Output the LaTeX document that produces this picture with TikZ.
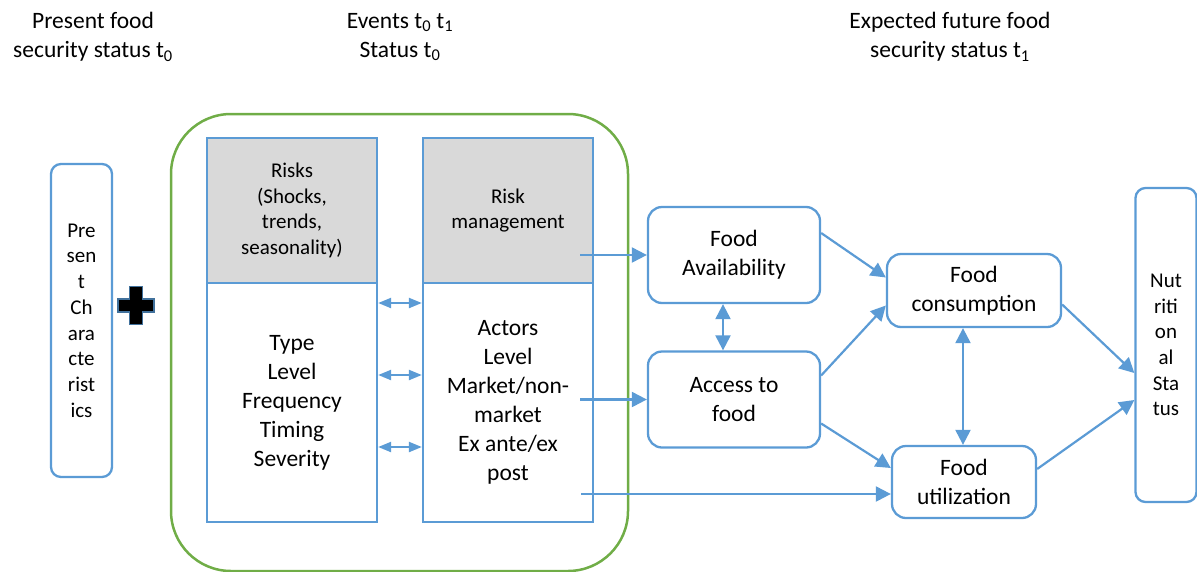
\documentclass[tikz,border=0pt]{standalone}
\usepackage{fontspec}
\setmainfont{Carlito}
\usetikzlibrary{arrows.meta}
\definecolor{boxblue}{RGB}{91,155,213}
\definecolor{grpgreen}{RGB}{112,173,71}
\definecolor{headgray}{RGB}{217,217,217}
\definecolor{plusblue}{RGB}{65,113,156}

\begin{document}
\begin{tikzpicture}[x=1pt,y=-1pt,
  big/.style={font=\fontsize{23.5}{29}\selectfont},
  small/.style={font=\fontsize{21}{25.7}\selectfont},
  tallbox/.style={draw=boxblue,line width=2.3pt,rounded corners=10pt,small,align=center,inner sep=0pt,minimum width=61pt,minimum height=313pt},
  headbox/.style={draw=boxblue,line width=2.3pt,fill=headgray,small,align=center,inner sep=0pt,minimum width=170pt,minimum height=145pt},
  bodybox/.style={draw=boxblue,line width=2.3pt,big,align=center,inner sep=0pt,minimum width=170pt,minimum height=239pt},
  foodbox/.style={draw=boxblue,line width=2.3pt,rounded corners=14pt,big,align=center,inner sep=0pt},
  conn/.style={draw=boxblue,line width=2.2pt,-{Triangle[length=15pt,width=15pt]}},
  bothconn/.style={draw=boxblue,line width=2.2pt,{Triangle[length=15pt,width=15pt]}-{Triangle[length=15pt,width=15pt]}},
  linkconn/.style={draw=boxblue,line width=2.2pt,{Triangle[length=13pt,width=10pt]}-{Triangle[length=13pt,width=10pt]}}]
\useasboundingbox (0,0) rectangle (1197,571);

\node[big,align=center] (t0title) at (93,37) {Present food\\security status t\textsubscript{0}};
\node[big,align=center] (evtitle) at (400,37) {Events t\textsubscript{0} t\textsubscript{1}\\Status t\textsubscript{0}};
\node[big,align=center] (t1title) at (950,37) {Expected future food\\security status t\textsubscript{1}};

\node[tallbox] (present) at (81.5,320.5) {Pre\\sen\\t\\Ch\\ara\\cte\\rist\\ics};

\coordinate (plus) at (136,305);
\filldraw[fill=black,draw=plusblue,line width=1.5pt] (plus) ++(-6.5,-18.5) -- ++(13,0) -- ++(0,12.5) -- ++(11.5,0) -- ++(0,13) -- ++(-11.5,0) -- ++(0,12.5) -- ++(-13,0) -- ++(0,-12.5) -- ++(-11.5,0) -- ++(0,-13) -- ++(11.5,0) -- cycle;

\node[draw=grpgreen,line width=2.5pt,rounded corners=60pt,minimum width=457pt,minimum height=457pt] (events) at (399.5,342.5) {};

\node[bodybox] (riskbody) at (292,402.5) {Type\\Level\\Frequency\\Timing\\Severity};
\node[headbox] (riskhead) at (292,210.5) {Risks\\(Shocks,\\trends,\\seasonality)};

\node[bodybox] (mgmtbody) at (508,402.5) {Actors\\Level\\Market/non-\\market\\Ex ante/ex\\post};
\node[headbox] (mgmthead) at (508,210.5) {Risk\\management};

\foreach \dy in {99.5,27.5,-44.5}
  \path[linkconn] ([yshift=\dy pt]riskbody.east) -- ([yshift=\dy pt]mgmtbody.west);

\node[foodbox,minimum width=172pt,minimum height=96pt] (avail) at (734,255) {Food\\Availability};
\node[foodbox,minimum width=172pt,minimum height=96pt] (access) at (734,399.5) {Access to\\food};
\node[foodbox,minimum width=174pt,minimum height=73pt] (cons) at (974,290.5) {Food\\consumption};
\node[foodbox,minimum width=144pt,minimum height=72pt] (util) at (964,482) {Food\\utilization};

\node[tallbox,minimum height=314pt] (nut) at (1166,345) {Nut\\riti\\on\\al\\Sta\\tus};

\path[conn] ([xshift=-14pt]avail.west -| mgmthead.east) -- (avail.west);
\path[conn] ([xshift=-14pt]access.west -| mgmtbody.east) -- (access.west);
\path[conn] ([xshift=-13pt,yshift=-12pt]util.west -| mgmtbody.east) -- ([yshift=-12pt]util.west);

\path[bothconn] ([xshift=-11pt]avail.south) -- ([xshift=-11pt]access.north);
\path[bothconn] ([xshift=-11pt]cons.south) -- ([xshift=-11pt]cons.south |- util.north);

\path[conn] ([yshift=22pt]avail.east) -- ([yshift=13pt]cons.west);
\path[conn] ([yshift=24pt]access.east) -- ([yshift=-15pt]cons.west);
\path[conn] ([yshift=-24pt]access.east) -- ([yshift=14pt]util.west);

\path[conn] ([yshift=-14pt]cons.east) -- ([yshift=-28pt]nut.west);
\path[conn] ([yshift=13pt]util.east) -- ([yshift=-55pt]nut.west);
\end{tikzpicture}
\end{document}
